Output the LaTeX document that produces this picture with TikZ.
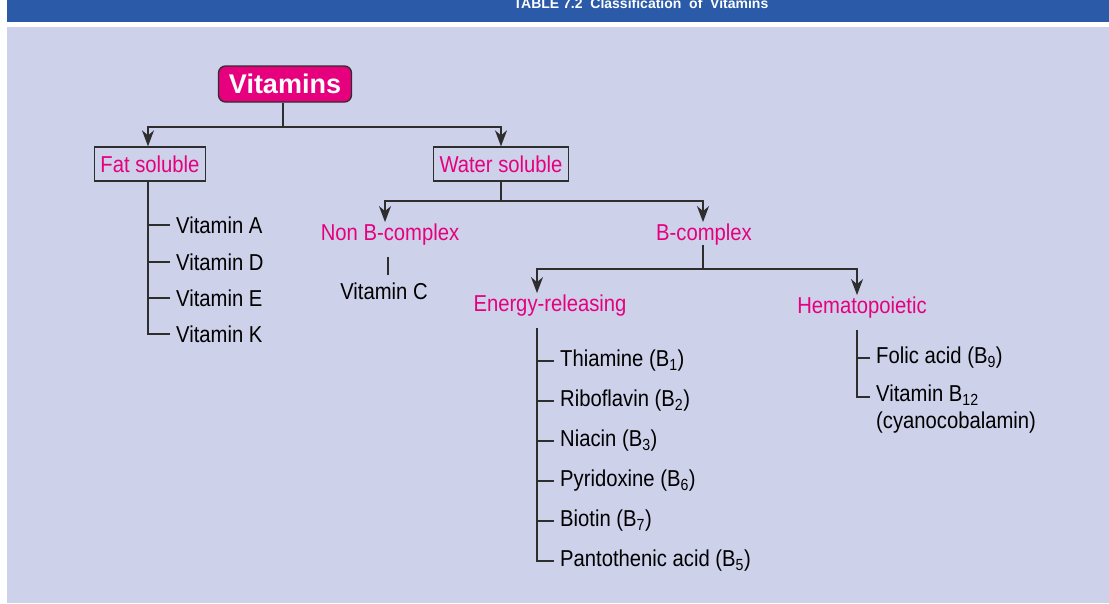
\documentclass[tikz,border=0pt]{standalone}
\usepackage{fontspec}
\setmainfont{Liberation Sans}[FakeStretch=0.88]
\newfontfamily\headfont{Liberation Sans}
\usepackage{tikz}
\usetikzlibrary{positioning,calc,arrows.meta}
\definecolor{bandblue}{HTML}{2B5BA8}
\definecolor{lavender}{HTML}{CDD1EA}
\definecolor{vitpink}{HTML}{E6007E}
\definecolor{linegray}{HTML}{2E2E2E}
\tikzset{
  catbox/.style={draw=linegray,line width=1.3pt,text=vitpink,inner xsep=6pt,minimum height=34pt},
  catlabel/.style={text=vitpink,inner sep=2pt},
  item/.style={anchor=west,inner xsep=6pt,inner ysep=1pt,align=left},
  link/.style={draw=linegray,line width=1.5pt},
  arr/.style={link,-{Stealth[length=16pt,width=12pt,inset=5pt]}}
}
\begin{document}
\begin{tikzpicture}[x=1pt,y=-1pt,font=\fontsize{23}{27}\selectfont]
  \useasboundingbox (0,0) rectangle (1109,603);
  \fill[white] (0,0) rectangle (1109,603);
  \fill[bandblue] (7,0) rectangle (1109,22);
  \fill[lavender] (7,27) rectangle (1109,603);
  \node[text=white,font=\headfont\bfseries\fontsize{14}{16}\selectfont,anchor=base] (title) at (641,8) {TABLE 7.2 \ Classification \ of \ Vitamins};

  % top of tree
  \node[draw=linegray,line width=1.3pt,fill=vitpink,rounded corners=7pt,text=white,
        font=\headfont\bfseries\fontsize{27}{30}\selectfont,minimum width=133pt,minimum height=36pt,inner sep=0pt] (vit) at (285,84) {Vitamins};
  \node[catbox] (fat) at (150,164) {Fat soluble};
  \node[catbox] (water) at (501,164) {Water soluble};
  \coordinate (split1) at (283,127);
  \draw[link] (vit.south -| split1) -- (split1);
  \draw[arr] (split1) -| ([xshift=-2pt]fat.north);
  \draw[arr] (split1) -| (water.north);

  % fat soluble
  \node[item] (vA) at (170,225) {Vitamin A};
  \node[item] (vD) at (170,262) {Vitamin D};
  \node[item] (vE) at (170,298) {Vitamin E};
  \node[item] (vK) at (170,334) {Vitamin K};
  \coordinate (fattop) at (148,181);
  \foreach \v in {vA,vD,vE,vK}
    \draw[link] (fattop) |- (\v.west);

  % water soluble
  \node[catlabel] (nonb) at (390,235) {Non B-complex};
  \node[catlabel] (bcx) at (704,235) {B-complex};
  \coordinate (split2) at (501,201);
  \draw[link] (water.south) -- (split2);
  \draw[arr] (split2) -| ([xshift=-5pt]nonb.north);
  \draw[arr] (split2) -| ([xshift=-1pt]bcx.north);
  \node[inner sep=1pt] (vitC) at (384,291) {Vitamin C};
  \draw[link] (388,257) -- (388,275);

  % B-complex
  \node[catlabel] (ener) at (550,306) {Energy-releasing};
  \node[catlabel] (hema) at (862,308) {Hematopoietic};
  \coordinate (split3) at (703,269);
  \draw[link] ([yshift=3pt]bcx.south -| split3) -- (split3);
  \draw[arr] (split3) -| ([xshift=-13pt]ener.north);
  \draw[arr] (split3) -| ([xshift=-5pt]hema.north);

  % energy-releasing
  \node[item] (b1) at (554,361) {Thiamine (B\textsubscript{1})};
  \node[item] (b2) at (554,401) {Riboflavin (B\textsubscript{2})};
  \node[item] (b3) at (554,441) {Niacin (B\textsubscript{3})};
  \node[item] (b6) at (554,481) {Pyridoxine (B\textsubscript{6})};
  \node[item] (b7) at (554,521) {Biotin (B\textsubscript{7})};
  \node[item] (b5) at (554,561) {Pantothenic acid (B\textsubscript{5})};
  \coordinate (enertop) at (537,328);
  \foreach \b in {b1,b2,b3,b6,b7,b5}
    \draw[link] (enertop) |- (\b.west);

  % hematopoietic
  \node[item] (b9) at (870,358) {Folic acid (B\textsubscript{9})};
  \node[item,anchor=north west,inner ysep=0pt] (b12) at (870,385) {Vitamin B\textsubscript{12}\\(cyanocobalamin)};
  \coordinate (hematop) at (857,330);
  \draw[link] (hematop) |- (b9.west);
  \draw[link] (hematop) |- (870,397);
\end{tikzpicture}
\end{document}
